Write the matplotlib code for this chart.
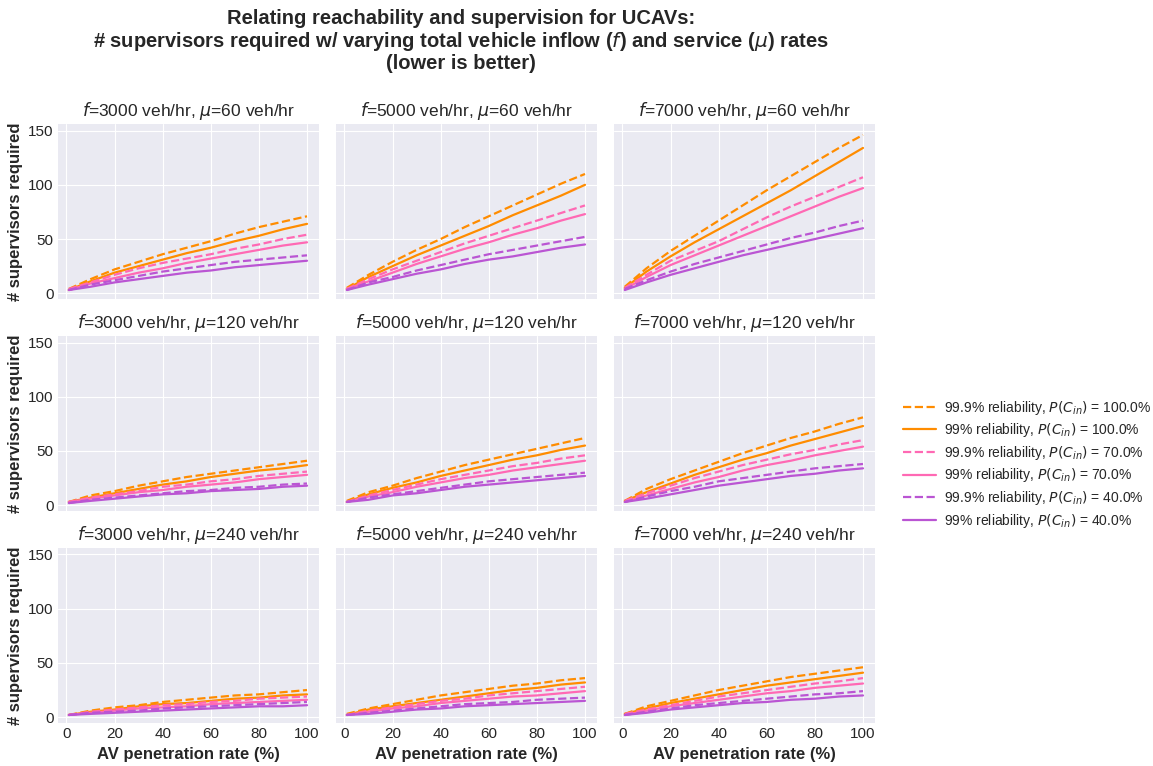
import matplotlib
matplotlib.use("Agg")
import matplotlib.pyplot as plt
import numpy as np

plt.style.use("seaborn-v0_8-darkgrid")
plt.rcParams['font.family'] = ['Liberation Sans', 'DejaVu Sans']
plt.rcParams['mathtext.fontset'] = 'dejavusans'

penetration = [1, 10, 20, 30, 40, 50, 60, 70, 80, 90, 100]
inflows = [3000, 5000, 7000]
service_rates = [60, 120, 240]

series_labels = [
    "99.9% reliability, $P(C_{in})$ = 100.0%",
    "99% reliability, $P(C_{in})$ = 100.0%",
    "99.9% reliability, $P(C_{in})$ = 70.0%",
    "99% reliability, $P(C_{in})$ = 70.0%",
    "99.9% reliability, $P(C_{in})$ = 40.0%",
    "99% reliability, $P(C_{in})$ = 40.0%",
]
series_colors = ["darkorange", "darkorange", "hotpink", "hotpink", "mediumorchid", "mediumorchid"]
series_styles = ["--", "-", "--", "-", "--", "-"]

f3000_mu60 = [
    [4, 13, 22, 29, 36, 42, 48, 55, 61, 66, 71],
    [3, 11, 19, 25, 31, 37, 42, 48, 53, 59, 64],
    [4, 10, 17, 23, 28, 32, 36, 41, 45, 50, 54],
    [3, 9, 14, 19, 23, 28, 32, 36, 40, 44, 47],
    [3, 8, 12, 16, 20, 23, 26, 29, 31, 33, 35],
    [3, 6, 10, 13, 16, 19, 21, 24, 26, 28, 30],
]
f5000_mu60 = [
    [5, 17, 29, 40, 50, 61, 71, 81, 91, 101, 110],
    [4, 15, 25, 35, 44, 53, 62, 72, 81, 90, 100],
    [4, 13, 22, 30, 38, 46, 53, 60, 67, 74, 81],
    [4, 11, 19, 27, 34, 41, 47, 54, 60, 67, 73],
    [3, 10, 15, 21, 26, 31, 36, 40, 44, 48, 52],
    [3, 8, 13, 18, 22, 27, 31, 34, 38, 42, 45],
]
f7000_mu60 = [
    [6, 23, 39, 53, 67, 81, 95, 108, 121, 134, 146],
    [5, 20, 34, 47, 59, 71, 83, 95, 108, 121, 134],
    [5, 17, 30, 39, 48, 59, 70, 80, 89, 98, 107],
    [4, 15, 26, 35, 44, 53, 62, 71, 80, 89, 97],
    [4, 12, 20, 27, 33, 39, 45, 51, 56, 62, 67],
    [3, 10, 17, 23, 29, 35, 40, 45, 50, 55, 60],
]
f3000_mu120 = [
    [3, 9, 13, 18, 22, 26, 29, 32, 35, 38, 41],
    [3, 7, 11, 15, 19, 22, 26, 29, 32, 34, 37],
    [3, 7, 10, 13, 17, 19, 22, 24, 27, 29, 31],
    [3, 6, 9, 12, 14, 17, 19, 21, 24, 26, 28],
    [2, 5, 7, 9, 11, 13, 14, 16, 17, 19, 20],
    [2, 4, 6, 8, 10, 11, 13, 14, 15, 17, 18],
]
f5000_mu120 = [
    [4, 12, 18, 25, 31, 37, 42, 47, 52, 57, 62],
    [3, 10, 16, 21, 27, 32, 37, 42, 46, 51, 55],
    [3, 9, 14, 19, 24, 28, 32, 36, 39, 43, 46],
    [3, 8, 12, 17, 21, 25, 28, 32, 35, 38, 41],
    [3, 7, 10, 13, 16, 19, 22, 24, 26, 28, 30],
    [3, 5, 9, 11, 14, 17, 19, 21, 23, 25, 27],
]
f7000_mu120 = [
    [4, 15, 24, 32, 40, 48, 55, 62, 68, 75, 81],
    [4, 12, 20, 28, 35, 42, 48, 55, 61, 67, 73],
    [4, 11, 18, 25, 31, 37, 42, 47, 51, 56, 60],
    [3, 9, 15, 21, 26, 32, 37, 41, 46, 50, 54],
    [3, 8, 13, 17, 22, 25, 28, 31, 34, 36, 38],
    [3, 6, 10, 14, 18, 21, 24, 27, 29, 32, 34],
]
f3000_mu240 = [
    [2, 6, 9, 11, 14, 16, 18, 20, 21, 23, 25],
    [2, 5, 7, 10, 12, 13, 15, 17, 18, 20, 21],
    [2, 5, 7, 9, 11, 12, 14, 15, 17, 18, 19],
    [2, 4, 6, 8, 9, 10, 12, 13, 14, 15, 16],
    [2, 4, 5, 6, 8, 9, 10, 11, 12, 13, 14],
    [2, 3, 4, 5, 6, 7, 8, 9, 10, 10, 11],
]
f5000_mu240 = [
    [3, 8, 12, 16, 20, 23, 26, 29, 31, 34, 36],
    [2, 7, 10, 13, 16, 19, 22, 25, 27, 30, 32],
    [2, 6, 9, 12, 15, 17, 20, 22, 24, 26, 28],
    [2, 5, 8, 10, 13, 15, 17, 19, 20, 22, 24],
    [2, 4, 6, 8, 10, 12, 13, 14, 16, 17, 18],
    [2, 3, 5, 7, 8, 10, 11, 12, 13, 14, 15],
]
f7000_mu240 = [
    [3, 10, 15, 20, 25, 29, 33, 37, 40, 43, 46],
    [3, 8, 13, 17, 21, 25, 29, 32, 35, 38, 41],
    [3, 7, 11, 15, 19, 22, 25, 28, 31, 33, 36],
    [2, 6, 10, 13, 16, 19, 22, 24, 27, 29, 31],
    [2, 5, 8, 11, 13, 15, 17, 19, 21, 22, 24],
    [2, 4, 7, 9, 11, 13, 14, 16, 17, 19, 20],
]

panel_data = {
    (60, 3000): f3000_mu60, (60, 5000): f5000_mu60, (60, 7000): f7000_mu60,
    (120, 3000): f3000_mu120, (120, 5000): f5000_mu120, (120, 7000): f7000_mu120,
    (240, 3000): f3000_mu240, (240, 5000): f5000_mu240, (240, 7000): f7000_mu240,
}

fig = plt.figure(figsize=(11.53, 7.66), dpi=100)
gs = fig.add_gridspec(3, 3, left=0.0503, right=0.7589, top=0.838, bottom=0.056,
                      wspace=0.065, hspace=0.21)
axes = np.empty((3, 3), dtype=object)
for r in range(3):
    for c in range(3):
        kw = {}
        if r > 0 or c > 0:
            kw['sharex'] = axes[0, 0]
            kw['sharey'] = axes[0, 0]
        axes[r, c] = fig.add_subplot(gs[r, c], **kw)

handles = []
for r, mu in enumerate(service_rates):
    for c, f in enumerate(inflows):
        ax = axes[r, c]
        for s, vals in enumerate(panel_data[(mu, f)]):
            ln, = ax.plot(penetration, vals, linestyle=series_styles[s],
                          color=series_colors[s], linewidth=1.6,
                          label=series_labels[s])
            if r == 0 and c == 0:
                handles.append(ln)
        ax.set_title(f"$f$={f} veh/hr, $\\mu$={mu} veh/hr", fontsize=12.5, color='#262626')
        ax.tick_params(labelsize=11, colors='#262626', length=0, pad=3)
        if c == 0:
            ax.set_ylabel("# supervisors required", fontsize=12, fontweight='bold', color='#262626')
        else:
            ax.tick_params(labelleft=False)
        if r == 2:
            ax.set_xlabel("AV penetration rate (%)", fontsize=12, fontweight='bold', color='#262626')
        else:
            ax.tick_params(labelbottom=False)

axes[0, 0].set_ylim(-5.5, 156)
axes[0, 0].set_xlim(-3.5, 105)
axes[0, 0].set_yticks([0, 50, 100, 150])
axes[0, 0].set_xticks([0, 20, 40, 60, 80, 100])

fig.legend(handles=handles, loc='center left', bbox_to_anchor=(0.772, 0.394),
           frameon=False, fontsize=10, handlelength=2.4, labelspacing=0.33,
           handletextpad=0.6)

fig.suptitle("Relating reachability and supervision for UCAVs:\n"
             "# supervisors required w/ varying total vehicle inflow ($f$) and service ($\\mu$) rates\n"
             "(lower is better)",
             x=0.4, y=0.988, va='top', fontsize=14.5, fontweight='bold', color='#262626',
             linespacing=1.1)

fig.savefig("out.png", dpi=100)
